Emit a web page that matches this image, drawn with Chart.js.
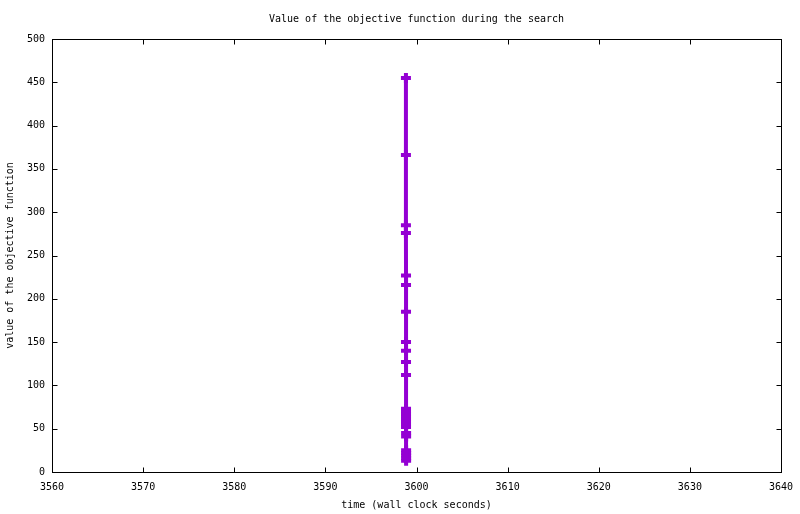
<!DOCTYPE html>
<html>
<head>
<meta charset="utf-8">
<script src="https://cdn.jsdelivr.net/npm/chart.js@4.4.1/dist/chart.umd.min.js"></script>
<style>
  html, body { margin: 0; padding: 0; background: #ffffff; }
  #wrap { width: 800px; height: 514px; }
</style>
</head>
<body>
<div id="wrap"><canvas id="chart"></canvas></div>
<script>
// Données (temps en secondes, valeur de l'objectif)
const times = [
  3598.84, 3598.84, 3598.84, 3598.84, 3598.85, 3598.85, 3598.85, 3598.85, 3598.85,
  3598.85, 3598.85, 3598.85, 3598.85, 3598.85, 3598.85, 3598.85, 3598.85, 3598.85,
  3598.85, 3598.86, 3598.86, 3598.86, 3598.86, 3598.86, 3598.86, 3598.86
];
const objective = [
  455, 366, 285, 276, 227, 216, 185, 150, 140,
  127, 112, 73, 70, 67, 64, 61, 58, 55,
  52, 45, 41, 25, 22, 19, 16, 13
];
const xTicks = [3560, 3570, 3580, 3590, 3600, 3610, 3620, 3630, 3640];
const yTicks = [0, 50, 100, 150, 200, 250, 300, 350, 400, 450, 500];

const FONT = { family: '"DejaVu Sans Mono", monospace', size: 10 };
const LINE_COLOR = '#9400d3';

// Cadre et graduations intérieures façon gnuplot
const framePlugin = {
  id: 'frame',
  afterDatasetsDraw(chart) {
    const { ctx, chartArea: a, scales: { x, y } } = chart;
    const L = Math.round(a.left) + 0.5, R = Math.round(a.right) + 0.5;
    const T = Math.round(a.top) + 0.5, B = Math.round(a.bottom) + 0.5;
    const len = 5;
    ctx.save();
    ctx.strokeStyle = '#000000';
    ctx.lineWidth = 1;
    ctx.beginPath();
    xTicks.forEach(v => {
      const px = Math.round(x.getPixelForValue(v)) + 0.5;
      ctx.moveTo(px, B); ctx.lineTo(px, B - len);
      ctx.moveTo(px, T); ctx.lineTo(px, T + len);
    });
    yTicks.forEach(v => {
      const py = Math.round(y.getPixelForValue(v)) + 0.5;
      ctx.moveTo(L, py); ctx.lineTo(L + len, py);
      ctx.moveTo(R, py); ctx.lineTo(R - len, py);
    });
    ctx.stroke();
    ctx.strokeRect(L, T, R - L, B - T);
    ctx.restore();
  }
};

const points = times.map((t, i) => ({ x: t, y: objective[i] }));

new Chart(document.getElementById('chart'), {
  type: 'line',
  data: {
    datasets: [{
      data: points,
      borderColor: LINE_COLOR,
      backgroundColor: LINE_COLOR,
      borderWidth: 4,
      pointStyle: 'cross',
      pointRadius: 5,
      pointBorderWidth: 4,
      pointBorderColor: LINE_COLOR,
      tension: 0
    }]
  },
  options: {
    responsive: true,
    maintainAspectRatio: false,
    animation: false,
    events: [],
    layout: { padding: { left: 0, right: 19, top: 0, bottom: 0 } },
    plugins: {
      legend: { display: false },
      tooltip: { enabled: false },
      title: {
        display: true,
        fullSize: false,
        text: 'Value of the objective function during the search',
        color: '#000000',
        font: { ...FONT, weight: 'normal' },
        padding: { top: 13, bottom: 14 }
      }
    },
    scales: {
      x: {
        type: 'linear',
        min: 3560,
        max: 3640,
        grid: { display: false, drawTicks: false },
        border: { display: false },
        afterBuildTicks: (scale) => { scale.ticks = xTicks.map(v => ({ value: v })); },
        afterFit: (scale) => {
          scale.height = 42;
          scale.paddingLeft = 0;
          scale.paddingRight = 0;
        },
        ticks: {
          color: '#000000',
          font: FONT,
          padding: 9,
          maxRotation: 0,
          autoSkip: false,
          callback: (v) => String(v)
        },
        title: {
          display: true,
          text: 'time (wall clock seconds)',
          color: '#000000',
          font: FONT,
          padding: { top: 0, bottom: 3 }
        }
      },
      y: {
        type: 'linear',
        min: 0,
        max: 500,
        grid: { display: false, drawTicks: false },
        border: { display: false },
        afterBuildTicks: (scale) => { scale.ticks = yTicks.map(v => ({ value: v })); },
        afterFit: (scale) => {
          scale.width = 52;
          scale.paddingTop = 0;
          scale.paddingBottom = 0;
        },
        ticks: {
          color: '#000000',
          font: FONT,
          padding: 7,
          autoSkip: false,
          callback: (v) => String(v)
        },
        title: {
          display: true,
          text: 'value of the objective function',
          color: '#000000',
          font: FONT,
          padding: { top: 4, bottom: 0 }
        }
      }
    }
  },
  plugins: [framePlugin]
});
</script>
</body>
</html>
